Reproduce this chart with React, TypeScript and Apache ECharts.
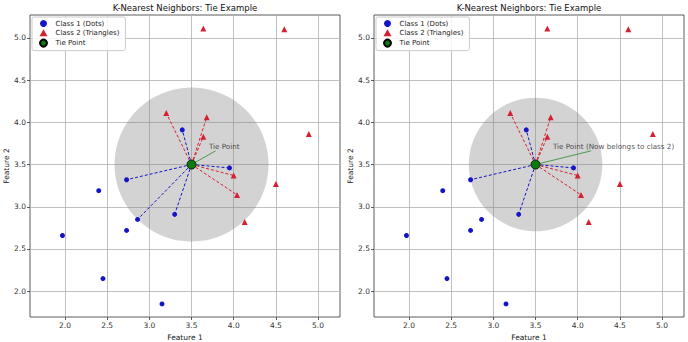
import React, { useEffect, useRef } from "react";
import * as echarts from "echarts";

const class1Points: number[][] = [
  [1.97, 2.66], [2.40, 3.19], [2.45, 2.15], [2.73, 2.72], [2.86, 2.85],
  [2.73, 3.32], [3.30, 2.91], [3.15, 1.85], [3.39, 3.91], [3.95, 3.46],
];
const class2Points: number[][] = [
  [3.64, 5.11], [4.60, 5.10], [4.89, 3.86], [3.20, 4.11], [3.68, 4.06],
  [3.64, 3.83], [4.00, 3.37], [4.04, 3.14], [4.13, 2.82], [4.50, 3.27],
];
const tiePoint: number[] = [3.5, 3.5];
const kValues: number[] = [10, 9];
const panelTitles: string[] = ["K-Nearest Neighbors: Tie Example", "K-Nearest Neighbors: Tie Example"];
const annotationTexts: string[] = ["Tie Point", "Tie Point (Now belongs to class 2)"];
const annotationTextPos: number[] = [3.7, 3.71];
const annotationLineEnds: number[][] = [[3.785, 3.662], [4.159, 3.662]];
const xTicks: number[] = [2.0, 2.5, 3.0, 3.5, 4.0, 4.5, 5.0];
const yTicks: number[] = [2.0, 2.5, 3.0, 3.5, 4.0, 4.5, 5.0];
const xRange: number[] = [1.585, 5.26];
const yRange: number[] = [1.695, 5.27];
const legendNames: string[] = ["Class 1 (Dots)", "Class 2 (Triangles)", "Tie Point"];

const FONT = "DejaVu Sans";
const BLUE = "#1414c8";
const RED = "#d42030";
const GREEN = "#0a7a0a";

export default function App() {
  const ref = useRef<HTMLDivElement>(null);
  useEffect(() => {
    document.body.style.margin = "0";
    const chart = echarts.init(ref.current!, null, { renderer: "svg" });
    const grids: any[] = [];
    const xAxes: any[] = [];
    const yAxes: any[] = [];
    const series: any[] = [];
    const legends: any[] = [];
    const graphics: any[] = [];
    const panelLeft = [30, 374];
    const W = 310;
    const all = [
      ...class1Points.map((p) => ({ p, c: 1 })),
      ...class2Points.map((p) => ({ p, c: 2 })),
    ];
    const dist = (p: number[]) => Math.hypot(p[0] - tiePoint[0], p[1] - tiePoint[1]);
    for (let i = 0; i < 2; i++) {
      grids.push({
        left: panelLeft[i], top: 15, width: W, height: 302,
        show: true, borderColor: "#333", borderWidth: 0.8, backgroundColor: "transparent",
        containLabel: false, outerBoundsMode: "none",
      });
      xAxes.push({
        type: "value", gridIndex: i, min: xRange[0], max: xRange[1],
        axisLine: { show: false },
        axisTick: { show: true, customValues: xTicks, length: 3, lineStyle: { color: "#333", width: 0.8 } },
        axisLabel: { customValues: xTicks, formatter: (v: number) => v.toFixed(1), fontSize: 7.5, color: "#333", margin: 4, fontFamily: FONT },
        splitLine: { show: true, lineStyle: { color: "#b0b0b0", width: 0.8 } },
        name: "Feature 1", nameLocation: "middle", nameGap: 16,
        nameTextStyle: { fontSize: 7.5, color: "#222", fontFamily: FONT },
      });
      yAxes.push({
        type: "value", gridIndex: i, min: yRange[0], max: yRange[1],
        axisLine: { show: false },
        axisTick: { show: true, customValues: yTicks, length: 3, lineStyle: { color: "#333", width: 0.8 } },
        axisLabel: { customValues: yTicks, formatter: (v: number) => v.toFixed(1), fontSize: 7.5, color: "#333", margin: 4, fontFamily: FONT },
        splitLine: { show: true, lineStyle: { color: "#b0b0b0", width: 0.8 } },
        name: "Feature 2", nameLocation: "middle", nameGap: 20,
        nameTextStyle: { fontSize: 7.5, color: "#222", fontFamily: FONT },
      });
      const sorted = [...all].sort((a, b) => dist(a.p) - dist(b.p));
      const neighbors = sorted.slice(0, kValues[i]);
      const radius = dist(neighbors[neighbors.length - 1].p);
      series.push({
        type: "custom", xAxisIndex: i, yAxisIndex: i, silent: true, z: 1,
        data: [[tiePoint[0], tiePoint[1], radius]],
        encode: { x: 0, y: 1 },
        renderItem: (params: any, api: any) => {
          const c = api.coord([api.value(0), api.value(1)]);
          const s = api.size([api.value(2), api.value(2)]);
          return {
            type: "circle",
            shape: { cx: c[0], cy: c[1], r: (s[0] + s[1]) / 2 },
            style: { fill: "rgba(128,128,128,0.35)", stroke: "none" },
          };
        },
      });
      neighbors.forEach((n) => {
        series.push({
          type: "line", xAxisIndex: i, yAxisIndex: i, silent: true, z: 3,
          symbol: "none", data: [tiePoint, n.p],
          lineStyle: { color: n.c === 1 ? BLUE : RED, width: 1, type: [3, 2] },
        });
      });
      series.push({
        type: "line", xAxisIndex: i, yAxisIndex: i, silent: true, z: 3,
        symbol: "none", data: [tiePoint, annotationLineEnds[i]],
        lineStyle: { color: "#2a8a2a", width: 0.8 },
      });
      series.push({
        name: legendNames[0], type: "scatter", xAxisIndex: i, yAxisIndex: i, z: 5,
        symbol: "circle", symbolSize: 5, data: class1Points,
        itemStyle: { color: BLUE, opacity: 1 },
      });
      series.push({
        name: legendNames[1], type: "scatter", xAxisIndex: i, yAxisIndex: i, z: 5,
        symbol: "triangle", symbolSize: 6, data: class2Points,
        itemStyle: { color: RED, opacity: 1 },
      });
      series.push({
        name: legendNames[2], type: "scatter", xAxisIndex: i, yAxisIndex: i, z: 6,
        symbol: "circle", symbolSize: 9, data: [tiePoint],
        itemStyle: { color: GREEN, borderColor: "#000", borderWidth: 0.8, opacity: 1 },
      });
      series.push({
        type: "scatter", xAxisIndex: i, yAxisIndex: i, z: 7, silent: true,
        symbol: "circle", symbolSize: 1, data: [annotationTextPos],
        itemStyle: { color: "transparent" },
        label: {
          show: true, position: "right", distance: 0, formatter: annotationTexts[i],
          fontSize: 7.2, color: "#222", fontFamily: FONT,
        },
      });
      legends.push({
        left: panelLeft[i] + 2, top: 17, orient: "vertical",
        data: [
          { name: legendNames[0], icon: "circle" },
          { name: legendNames[1], icon: "triangle" },
          { name: legendNames[2], icon: "circle" },
        ],
        itemWidth: 8, itemHeight: 7, itemGap: 2.3, padding: [3, 6, 3, 7],
        borderColor: "#ccc", borderWidth: 1, borderRadius: 2,
        backgroundColor: "rgba(255,255,255,0.85)",
        textStyle: { fontSize: 7, color: "#222", fontFamily: FONT, padding: [0, 0, 0, 3] },
        selectedMode: false,
      });
      graphics.push({
        type: "text", x: panelLeft[i] + W / 2, y: 8,
        style: { text: panelTitles[i], align: "center", verticalAlign: "middle", fontSize: 8.5, fill: "#111", fontFamily: FONT },
      });
    }
    chart.setOption({
      animation: false,
      backgroundColor: "#fff",
      textStyle: { fontFamily: FONT },
      grid: grids, xAxis: xAxes, yAxis: yAxes, series, legend: legends, graphic: graphics,
    });
    return () => chart.dispose();
  }, []);
  return <div ref={ref} style={{ position: "fixed", left: 0, top: 0, width: 688, height: 342 }} />;
}
